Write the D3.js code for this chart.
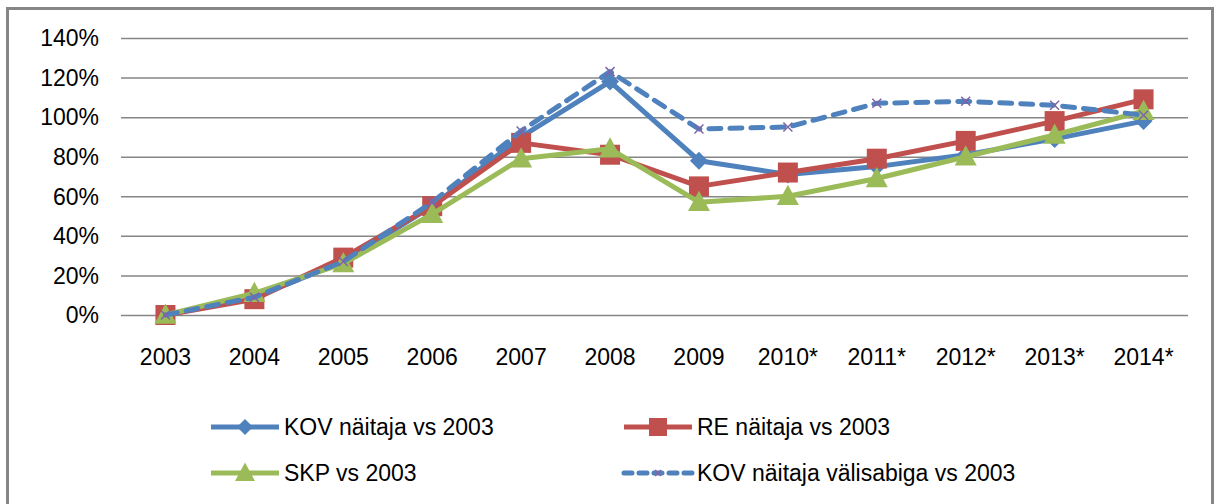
<!DOCTYPE html>
<html>
<head>
<meta charset="utf-8">
<script src="https://cdn.jsdelivr.net/npm/d3@7"></script>
<style>
  body { margin: 0; background: #fff; }
  text { font-family: "Liberation Sans", Arial, sans-serif; fill: #000; }
</style>
</head>
<body>
<div id="chart"></div>
<script>
// Line chart: growth vs 2003 (Excel-like styling)

const WIDTH = 1218;
const HEIGHT = 504;

const years = ["2003", "2004", "2005", "2006", "2007", "2008", "2009", "2010*", "2011*", "2012*", "2013*", "2014*"];
const yTicks = [0, 20, 40, 60, 80, 100, 120, 140];

const kov = [0, 9, 27, 55, 90, 118, 78, 71, 75, 81, 89, 98];
const re = [0, 8, 29, 55, 87, 81, 65, 72, 79, 88, 98, 109];
const skp = [0, 11, 26, 51, 79, 84, 57, 60, 69, 80, 91, 103];
const kovAbi = [0, 9, 27, 57, 93, 123, 94, 95, 107, 108, 106, 101];

const seriesNames = ["KOV näitaja vs 2003", "RE näitaja vs 2003", "SKP vs 2003", "KOV näitaja välisabiga vs 2003"];

const BLUE = "#4F81BD";
const RED = "#C0504D";
const GREEN = "#9BBB59";

const series = [
  { name: seriesNames[0], values: kov, color: BLUE, marker: "diamond", dash: null },
  { name: seriesNames[1], values: re, color: RED, marker: "square", dash: null },
  { name: seriesNames[2], values: skp, color: GREEN, marker: "triangle", dash: null },
  { name: seriesNames[3], values: kovAbi, color: BLUE, marker: "x", dash: "12,9" }
];

const plot = { left: 121, right: 1188, top: 38, bottom: 315 };

const svg = d3.select("#chart")
  .append("svg")
  .attr("width", WIDTH)
  .attr("height", HEIGHT);

// outer frame
svg.append("rect")
  .attr("x", 7.5)
  .attr("y", 8.5)
  .attr("width", 1205)
  .attr("height", 520)
  .attr("fill", "none")
  .attr("stroke", "#868686")
  .attr("stroke-width", 3);

const x = d3.scaleBand()
  .domain(years)
  .range([plot.left, plot.right]);

const y = d3.scaleLinear()
  .domain([0, 140])
  .range([plot.bottom, plot.top]);

// gridlines
const yGrid = d3.axisLeft(y)
  .tickValues(yTicks)
  .tickSize(-(plot.right - plot.left))
  .tickFormat("");

svg.append("g")
  .attr("transform", `translate(${plot.left},0)`)
  .call(yGrid)
  .call((g) => g.select(".domain").remove())
  .call((g) => g.selectAll("line").attr("stroke", "#868686").attr("stroke-width", 1.5));

// y labels
svg.append("g")
  .selectAll("text")
  .data(yTicks)
  .join("text")
  .attr("x", 99)
  .attr("y", (d) => y(d))
  .attr("dy", "0.36em")
  .attr("text-anchor", "end")
  .style("font-size", "23px")
  .text((d) => d + "%");

// x labels
svg.append("g")
  .selectAll("text")
  .data(years)
  .join("text")
  .attr("x", (d) => x(d) + x.bandwidth() / 2)
  .attr("y", 365)
  .attr("text-anchor", "middle")
  .style("font-size", "23px")
  .text((d) => d);

const line = d3.line()
  .x((d, i) => x(years[i]) + x.bandwidth() / 2)
  .y((d) => y(d));

// marker shapes, size = full width in px
function markerPath(type, s) {
  const h = s / 2;
  if (type === "diamond") return `M0,${-h}L${h},0L0,${h}L${-h},0Z`;
  if (type === "square") return `M${-h},${-h}H${h}V${h}H${-h}Z`;
  if (type === "triangle") return `M0,${-h * 1.05}L${h},${h * 0.8}H${-h}Z`;
  return `M${-h},${-h}L${h},${h}M${-h},${h}L${h},${-h}`;
}

function drawMarker(sel, type, color, size) {
  const p = sel.append("path").attr("d", markerPath(type, size));
  if (type === "x") {
    p.attr("fill", "none").attr("stroke", "#7F64A8").attr("stroke-width", 1.5);
  } else {
    p.attr("fill", color);
  }
}

const markerSize = { diamond: 18, square: 20, triangle: 22, x: 9 };

series.forEach((s) => {
  const g = svg.append("g");
  g.append("path")
    .datum(s.values)
    .attr("d", line)
    .attr("fill", "none")
    .attr("stroke", s.color)
    .attr("stroke-width", 5)
    .attr("stroke-linejoin", "round")
    .attr("stroke-linecap", s.dash ? "round" : "butt")
    .attr("stroke-dasharray", s.dash);

  s.values.forEach((v, i) => {
    const m = g.append("g")
      .attr("transform", `translate(${x(years[i]) + x.bandwidth() / 2},${y(v)})`);
    drawMarker(m, s.marker, s.color, markerSize[s.marker]);
  });
});

// legend
const legendPos = [
  { x: 211, y: 427 },
  { x: 624, y: 427 },
  { x: 211, y: 473 },
  { x: 624, y: 473 }
];
const legendMarkerSize = { diamond: 16, square: 18, triangle: 20, x: 6 };

series.forEach((s, i) => {
  const p = legendPos[i];
  const g = svg.append("g").attr("transform", `translate(${p.x},${p.y})`);
  g.append("line")
    .attr("x1", 0)
    .attr("x2", 68)
    .attr("stroke", s.color)
    .attr("stroke-width", 5)
    .attr("stroke-linecap", s.dash ? "round" : "butt")
    .attr("stroke-dasharray", s.dash ? "8,7" : null);
  const m = g.append("g").attr("transform", "translate(34,0)");
  drawMarker(m, s.marker, s.color, legendMarkerSize[s.marker]);
  g.append("text")
    .attr("x", 73)
    .attr("dy", "0.36em")
    .style("font-size", "23px")
    .text(s.name);
});
</script>
</body>
</html>
